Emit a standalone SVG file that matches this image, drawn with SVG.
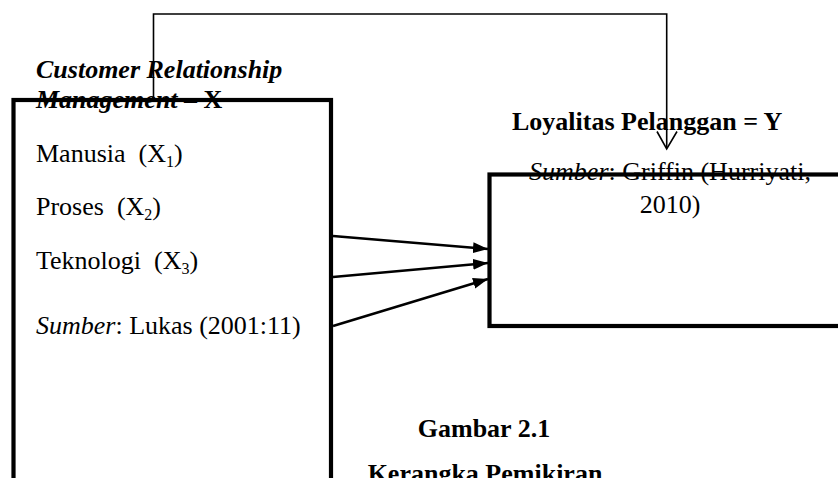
<svg xmlns="http://www.w3.org/2000/svg" width="838" height="478" viewBox="0 0 838 478">
<defs>
<style>
.t{font-family:"Liberation Serif","Times New Roman",serif;font-size:26px;fill:#000}
.b{font-weight:bold}
.i{font-style:italic}
.box{fill:none;stroke:#000;stroke-width:4.2}
.conn{fill:none;stroke:#000;stroke-width:2.5}
.thin{fill:none;stroke:#000;stroke-width:1.6}
</style>
<marker id="ah" markerUnits="userSpaceOnUse" markerWidth="16" markerHeight="12" refX="15" refY="6" orient="auto">
<path d="M0,0.5 L15,6 L0,11.5 z" fill="#000"/>
</marker>
</defs>
<rect width="838" height="478" fill="#fff"/>
<g id="node-x">
<rect class="box" x="13.5" y="100" width="317.5" height="420"/>
<text class="t b i" x="36" y="78">Customer Relationship</text>
<text class="t b" x="36" y="108"><tspan class="i">Management</tspan> – X</text>
<text class="t" x="36" y="162">Manusia &#160;(X<tspan font-size="16" dy="5">1</tspan><tspan dy="-5">)</tspan></text>
<text class="t" x="36" y="215">Proses &#160;(X<tspan font-size="16" dy="5">2</tspan><tspan dy="-5">)</tspan></text>
<text class="t" x="36" y="269">Teknologi &#160;(X<tspan font-size="16" dy="5">3</tspan><tspan dy="-5">)</tspan></text>
<text class="t" x="36" y="334"><tspan class="i">Sumber</tspan>: Lukas (2001:11)</text>
</g>
<g id="node-y">
<rect class="box" x="489.5" y="174.5" width="400" height="151.5"/>
<text class="t b" x="512" y="130">Loyalitas Pelanggan = Y</text>
<text class="t" x="670" y="180" text-anchor="middle"><tspan class="i">Sumber</tspan>: Griffin (Hurriyati,</text>
<text class="t" x="670" y="213" text-anchor="middle">2010)</text>
</g>
<g id="caption">
<text class="t b" x="484" y="437" text-anchor="middle">Gambar 2.1</text>
<text class="t b" x="485" y="482" text-anchor="middle">Kerangka Pemikiran</text>
</g>
<g id="connectors">
<polyline class="thin" points="153.5,100 153.5,14 666.7,14 666.7,148"/>
<polyline class="thin" points="657,131.5 666.7,149 677,131.5"/>
<line class="conn" x1="333" y1="236" x2="488" y2="249" marker-end="url(#ah)"/>
<line class="conn" x1="333" y1="277" x2="488" y2="263" marker-end="url(#ah)"/>
<line class="conn" x1="333" y1="326" x2="488" y2="279" marker-end="url(#ah)"/>
</g>
</svg>
